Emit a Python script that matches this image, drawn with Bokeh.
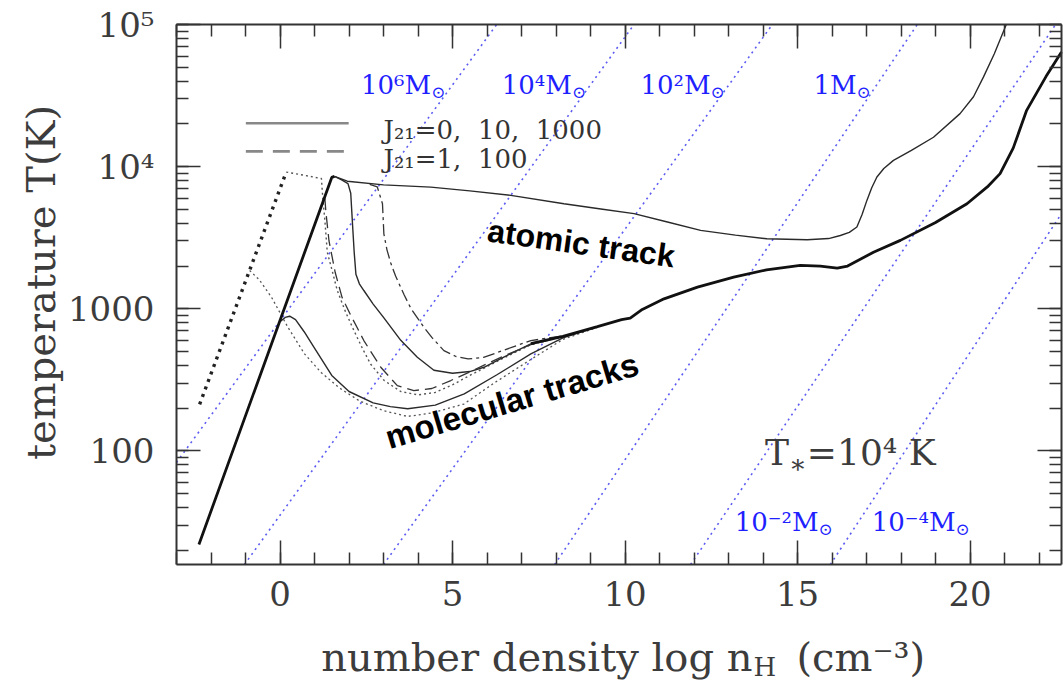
import math
from bokeh.plotting import figure
from bokeh.models import (LinearAxis, LogAxis, SingleIntervalTicker, LogTicker,
                          CustomJSTickFormatter, Label, Range1d)
from bokeh.embed import file_html
from bokeh.resources import INLINE

# ---------------------------------------------------------------- axes
X_MIN, X_MAX = -3.0, 22.65          # log n_H  [cm^-3]
T_MIN, T_MAX = 15.9, 1.0e5          # temperature [K]
y_tick_values = [100, 1000, 10000, 100000]
y_tick_labels = ["100", "1000", "10\u2074", "10\u2075"]

# ---------------------------------------------------------------- tracks
# initial compression, common to every J21
collapse_n = [-2.35, 1.50, 1.58]
collapse_T = [22, 8400, 8550]

# J21 = 1000 : stays on the atomic track
j1000_n = [1.58, 1.95, 3.0, 4.37, 5.5, 6.69, 8.23, 9.3, 10.26, 11.2, 12.19, 13.2,
           14.11, 15.28, 15.9, 16.24, 16.5, 16.72, 16.87, 17.01, 17.15, 17.3, 17.5,
           17.78, 18.3, 18.94, 19.71, 20.1, 20.39, 20.7, 21.05]
j1000_T = [8550, 7900, 7450, 7180, 6750, 6280, 5480, 5035, 4670, 4100, 3560, 3300,
           3110, 3060, 3120, 3280, 3450, 3760, 4600, 5790, 7100, 8450, 9700,
           11070, 13000, 16100, 23600, 31000, 42800, 62000, 100000]

# J21 = 10
j10_n = [1.58, 1.8, 1.97, 2.05, 2.1, 2.15, 2.2, 2.3, 2.43, 2.7, 3.0, 3.5, 3.98,
         4.46, 5.0, 5.5, 5.91, 6.5, 7.27, 8.2]
j10_T = [8550, 8050, 7600, 6500, 4000, 2500, 1750, 1500, 1345, 1080, 870, 600, 456,
         370, 352, 362, 388, 460, 566, 640]

# J21 = 100
j100_n = [2.6, 2.82, 2.97, 3.01, 3.1, 3.21, 3.35, 3.6, 3.8, 4.17, 4.4, 4.75, 5.1,
          5.45, 5.9, 6.31, 6.8, 7.27, 8.2]
j100_T = [7500, 7200, 5480, 3370, 2600, 2100, 1700, 1250, 1000, 741, 630, 508, 462,
          444, 455, 494, 545, 598, 645]

# J21 = 1
j1_n = [1.3, 1.33, 1.42, 1.6, 1.8, 2.05, 2.43, 2.92, 3.4, 3.88, 4.4, 4.95, 5.5,
        6.4, 7.27, 8.2]
j1_T = [6000, 4800, 3000, 1800, 1200, 900, 598, 388, 288, 266, 275, 313, 360,
        456, 560, 638]

# J21 = 0
j0_n = [0.0, 0.15, 0.28, 0.45, 0.7, 1.0, 1.5, 2.0, 2.7, 3.2, 3.7, 4.5, 5.34, 6.3,
        7.27, 8.2, 9.2]
j0_T = [810, 870, 887, 840, 690, 530, 340, 262, 218, 205, 198, 210, 252, 345,
        482, 625, 748]

# dotted runs from a warmer initial state
dotA_n = [-2.33, 0.18, 0.7, 1.2, 1.24, 1.3, 1.37, 1.5, 1.66, 1.9, 2.14, 2.4, 2.63,
          3.02, 3.5, 4.0, 4.5, 5.0, 5.5, 6.4, 7.27, 8.2]
dotA_T = [213, 9160, 8700, 8250, 6000, 4200, 2500, 1900, 1345, 950, 705, 520, 407,
          313, 262, 248, 258, 292, 340, 440, 560, 635]

dotB_n = [-0.88, -0.6, -0.25, 0.23, 0.71, 1.2, 1.7, 2.3, 3.0, 3.7, 4.4, 5.33, 6.2,
          7.27, 8.2, 9.2]
dotB_T = [1860, 1600, 1210, 741, 482, 355, 280, 225, 192, 175, 185, 214, 300,
          440, 610, 740]

# common molecular track once all runs have converged
mol_n = [7.27, 8.2, 9.2, 9.9, 10.15, 10.5, 11.13, 12.1, 13.15, 14.1, 15.08, 15.66,
         16.15, 16.45, 17.2, 17.98, 19.0, 19.91, 20.5, 20.87, 21.25, 21.64, 22.2, 22.65]
mol_T = [570, 640, 750, 840, 860, 990, 1175, 1420, 1670, 1880, 2020, 1995,
         1930, 2000, 2500, 3030, 4050, 5480, 7200, 8930, 13500, 24900, 43000, 64000]

# Jeans-mass lines: end points (log n, T)
jeans_labels = ["10\u2076M", "10\u2074M", "10\u00b2M", "1M", "10\u207b\u00b2M", "10\u207b\u2074M"]
jeans_n0 = [-3.0, -1.03, 3.0, 7.96, 11.9, 15.95]
jeans_T0 = [83, 15.9, 15.9, 15.9, 15.9, 15.9]
jeans_n1 = [6.28, 10.26, 14.27, 18.47, 22.48, 22.65]
jeans_T1 = [1e5, 1e5, 1e5, 1e5, 1e5, 4670]
jeans_label_n = [4.38, 8.46, 12.48, 16.71, 15.61, 19.58]
jeans_label_T = [37300, 37300, 37300, 37300, 31.4, 31.4]

# ---------------------------------------------------------------- page geometry
W, H = 1063, 684
BOX_L, BOX_R, BOX_T, BOX_B = 176, 1061, 24, 564     # plotting box in canvas px
px_per_x = (BOX_R - BOX_L) / (X_MAX - X_MIN)
px_per_dec = (BOX_B - BOX_T) / math.log10(T_MAX / T_MIN)
# the canvas-wide frame, so that titles outside the box are not clipped
xr = Range1d(X_MIN - BOX_L / px_per_x, X_MAX + (W - BOX_R) / px_per_x)
yr = Range1d(T_MIN * 10 ** (-(H - BOX_B) / px_per_dec),
             T_MAX * 10 ** (BOX_T / px_per_dec))

p = figure(width=W, height=H, x_range=xr, y_range=yr, y_axis_type="log",
           output_backend="svg", toolbar_location=None,
           min_border=0, min_border_left=0, min_border_right=0,
           min_border_top=0, min_border_bottom=0)
p.grid.visible = False
p.outline_line_color = None
p.background_fill_color = "white"
p.border_fill_color = "white"

SERIF = "DejaVu Serif"
INK = "#3c3c3c"

bottom_axis = p.below[0]
left_axis = p.left[0]
top_axis = LinearAxis()
right_axis = LogAxis()
p.add_layout(top_axis, "above")
p.add_layout(right_axis, "right")

for ax, loc in [(bottom_axis, T_MIN), (top_axis, T_MAX)]:
    ax.ticker = SingleIntervalTicker(interval=5, num_minor_ticks=5)
    ax.fixed_location = loc
    ax.bounds = (X_MIN, X_MAX)
for ax, loc in [(left_axis, X_MIN), (right_axis, X_MAX)]:
    ax.ticker = LogTicker(num_minor_ticks=10)
    ax.fixed_location = loc
    ax.bounds = (T_MIN, T_MAX)

left_axis.formatter = CustomJSTickFormatter(
    args=dict(vals=y_tick_values, labs=y_tick_labels),
    code="""
    for (let i = 0; i < vals.length; i++) {
        if (Math.abs(Math.log10(tick) - Math.log10(vals[i])) < 1e-6) return labs[i];
    }
    return "";
    """)

for ax in [bottom_axis, left_axis, top_axis, right_axis]:
    ax.axis_label = None
    ax.axis_line_color = "#333333"
    ax.axis_line_width = 2
    ax.major_tick_line_color = "#333333"
    ax.minor_tick_line_color = "#333333"
    ax.major_tick_line_width = 1.5
    ax.minor_tick_line_width = 1.5
    ax.major_tick_in = 24
    ax.major_tick_out = 0
    ax.minor_tick_in = 12
    ax.minor_tick_out = 0
    ax.major_label_text_font = SERIF
    ax.major_label_text_color = INK
    ax.major_label_text_font_size = "34px"

# mirrored frame axes: ticks only
for ax in [top_axis, right_axis]:
    ax.formatter = CustomJSTickFormatter(code="return ''")
    ax.major_label_text_font_size = "1px"
    ax.major_label_standoff = 0
bottom_axis.major_label_standoff = 16
left_axis.major_label_standoff = 22

# ---------------------------------------------------------------- Jeans lines
p.segment(jeans_n0, jeans_T0, jeans_n1, jeans_T1, line_color="#5c5cf2",
          line_width=1.6, line_dash="2 4")

# ---------------------------------------------------------------- tracks
thin = dict(line_color="#2a2a2a", line_width=1.4)
p.line(dotB_n, dotB_T, line_color="#555555", line_width=1.3, line_dash="2 3")
p.line(dotA_n[:2], dotA_T[:2], line_color="#222222", line_width=3.4, line_dash="3 5")
p.line(dotA_n[1:], dotA_T[1:], line_color="#555555", line_width=1.4, line_dash="2 3")
p.line(j0_n, j0_T, **thin)
p.line(j10_n, j10_T, **thin)
p.line(j1000_n, j1000_T, **thin)
p.line(j1_n, j1_T, line_color="#333333", line_width=1.3, line_dash="12 6")
p.line(j100_n, j100_T, line_color="#333333", line_width=1.3, line_dash="12 4 3 4")
p.line(collapse_n, collapse_T, line_color="#111111", line_width=2.8)
p.line(mol_n, mol_T, line_color="#111111", line_width=2.8)

# ---------------------------------------------------------------- legend
p.line([-0.99, 1.99], [20200, 20200], line_color="#888888", line_width=2.6)
p.line([-0.99, 1.99], [12800, 12800], line_color="#888888", line_width=2.6,
       line_dash="17 10")
p.add_layout(Label(x=3.0, y=18000, text="J\u2082\u2081=0,\u00a0 10,\u00a0 1000",
                   text_font=SERIF, text_font_size="26px", text_color="#333333",
                   text_baseline="alphabetic"))
p.add_layout(Label(x=3.0, y=11400, text="J\u2082\u2081=1,\u00a0 100",
                   text_font=SERIF, text_font_size="26px", text_color="#333333",
                   text_baseline="alphabetic"))

# ---------------------------------------------------------------- Jeans labels
SUN_DROP = 10 ** (-7 / px_per_dec)   # lower the solar symbol by ~7 px
for lab, xn, yt in zip(jeans_labels, jeans_label_n, jeans_label_T):
    p.add_layout(Label(x=xn, y=yt, text=lab, text_font=SERIF,
                       text_font_size="26px", text_color="#1f1fff",
                       text_align="right", text_baseline="alphabetic"))
    p.add_layout(Label(x=xn, y=yt * SUN_DROP, text="\u2299", text_font=SERIF,
                       text_font_size="17px", text_color="#1f1fff",
                       text_align="left", text_baseline="alphabetic"))

# ---------------------------------------------------------------- annotations
p.add_layout(Label(x=14.75, y=97, text="T", text_font=SERIF, text_font_size="36px",
                   text_color=INK, text_align="right", text_baseline="alphabetic"))
p.add_layout(Label(x=14.75, y=97 * 10 ** (-11 / px_per_dec), text="\u2217",
                   text_font=SERIF, text_font_size="26px", text_color=INK,
                   text_align="left", text_baseline="alphabetic"))
p.add_layout(Label(x=15.27, y=97, text="=10\u2074 K", text_font=SERIF,
                   text_font_size="36px", text_color=INK, text_align="left",
                   text_baseline="alphabetic"))

p.add_layout(Label(x=8.73, y=2885, text="atomic track", text_font="Liberation Sans",
                   text_font_style="bold", text_font_size="32px", text_color="black",
                   text_align="center", text_baseline="middle", angle=-0.14))
p.add_layout(Label(x=6.72, y=226, text="molecular tracks", text_font="Liberation Sans",
                   text_font_style="bold", text_font_size="33px", text_color="black",
                   text_align="center", text_baseline="middle", angle=0.29))

# axis titles (screen px, origin at the canvas' lower-left corner)
XL_BASE = 656      # canvas row of the x title's baseline
p.add_layout(Label(x=40, y=H - 282, x_units="screen", y_units="screen",
                   text="temperature T(K)", text_font=SERIF,
                   text_font_size="40px", text_color=INK, text_align="center",
                   text_baseline="middle", angle=math.pi / 2))
p.add_layout(Label(x=752, y=H - XL_BASE, x_units="screen", y_units="screen",
                   text="number density log n", text_font=SERIF,
                   text_font_size="40px", text_color=INK, text_align="right",
                   text_baseline="alphabetic"))
p.add_layout(Label(x=753, y=H - XL_BASE - 10, x_units="screen", y_units="screen",
                   text="H", text_font=SERIF,
                   text_font_size="26px", text_color=INK, text_align="left",
                   text_baseline="alphabetic"))
p.add_layout(Label(x=796, y=H - XL_BASE, x_units="screen", y_units="screen",
                   text="(cm\u207b\u00b3)", text_font=SERIF,
                   text_font_size="40px", text_color=INK, text_align="left",
                   text_baseline="alphabetic"))

open("out.html", "w").write(file_html(p, INLINE))
